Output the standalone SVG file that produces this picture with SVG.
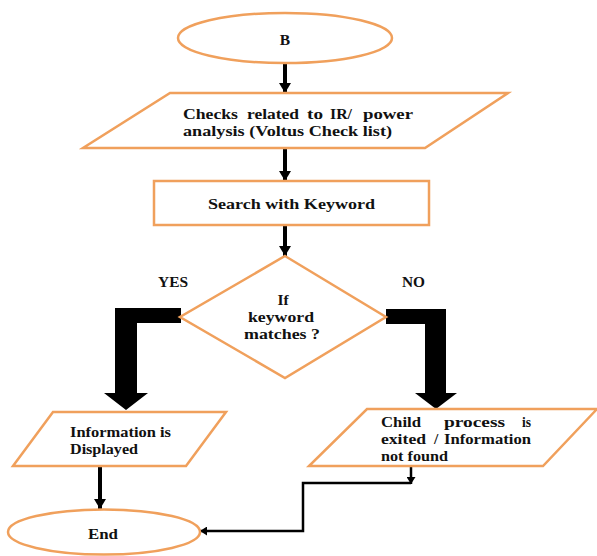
<svg xmlns="http://www.w3.org/2000/svg" width="597" height="556" viewBox="0 0 597 556">
<style>
.shape{fill:#fff;stroke:#F0A05C;stroke-width:2.5}
.t{font-family:"Liberation Serif","Times New Roman",serif;font-weight:bold;font-size:15.5px;fill:#111}
.c{stroke:#000;fill:none}
</style>
<defs>
<marker id="ah" markerUnits="userSpaceOnUse" markerWidth="14" markerHeight="12" refX="10" refY="6" orient="auto">
<path d="M0,0 L10,6 L0,12 Z" fill="#000"/>
</marker>
<marker id="ahs" markerUnits="userSpaceOnUse" markerWidth="10" markerHeight="9" refX="7" refY="4.5" orient="auto">
<path d="M0,0 L7,4.5 L0,9 Z" fill="#000"/>
</marker>
</defs>
<rect width="597" height="556" fill="#fff"/>
<g id="connectors">
<line class="c" x1="285" y1="63" x2="285" y2="93" stroke-width="4" marker-end="url(#ah)"/>
<line class="c" x1="285" y1="148" x2="285" y2="181" stroke-width="4" marker-end="url(#ah)"/>
<line class="c" x1="285" y1="225" x2="285" y2="256" stroke-width="4" marker-end="url(#ah)"/>
<polygon points="181,308 115,308 115,393 104,393 126,410 148,393 137,393 137,323 181,323" fill="#000"/>
<polygon points="386,309 446,309 446,393 457,393 436,409 415,393 425,393 425,324 386,324" fill="#000"/>
<line class="c" x1="100" y1="466" x2="100" y2="509" stroke-width="4" marker-end="url(#ah)"/>
<line class="c" x1="411" y1="466" x2="411" y2="484" stroke-width="2.5" marker-end="url(#ahs)"/>
<polyline class="c" points="411,483 303,483 303,531 200,531" stroke-width="2.5" marker-end="url(#ahs)"/>
</g>
<g id="start">
<ellipse class="shape" cx="285" cy="38" rx="107" ry="25"/>
<text class="t" x="285" y="45" text-anchor="middle" font-size="19">B</text>
</g>
<g id="checks">
<polygon class="shape" points="170,93 508,93 425,148 83,148"/>
<text class="t"><tspan x="183" y="119" textLength="55" lengthAdjust="spacingAndGlyphs">Checks</tspan><tspan x="247" y="119" textLength="52" lengthAdjust="spacingAndGlyphs">related</tspan><tspan x="307" y="119" textLength="16" lengthAdjust="spacingAndGlyphs">to</tspan><tspan x="330" y="119" textLength="22" lengthAdjust="spacingAndGlyphs">IR/</tspan><tspan x="363" y="119" textLength="50" lengthAdjust="spacingAndGlyphs">power</tspan></text>
<text class="t" x="183" y="136" textLength="209" lengthAdjust="spacingAndGlyphs">analysis (Voltus Check list)</text>
</g>
<g id="search">
<rect class="shape" x="154" y="181" width="275" height="44"/>
<text class="t" x="208" y="209" font-size="16" textLength="167" lengthAdjust="spacingAndGlyphs">Search with Keyword</text>
</g>
<g id="decision">
<polygon class="shape" points="285,256 386,317 285,378 180,317"/>
<text class="t" x="283" y="305" text-anchor="middle">If</text>
<text class="t" x="248" y="322" textLength="66" lengthAdjust="spacingAndGlyphs">keyword</text>
<text class="t" x="244" y="339" textLength="76" lengthAdjust="spacingAndGlyphs">matches ?</text>
</g>
<g id="labels">
<text class="t" x="158" y="287" textLength="30" lengthAdjust="spacingAndGlyphs">YES</text>
<text class="t" x="402" y="287" textLength="23" lengthAdjust="spacingAndGlyphs">NO</text>
</g>
<g id="info">
<polygon class="shape" points="53,412 226,412 186,466 13,466"/>
<text class="t" x="70" y="437" textLength="101" lengthAdjust="spacingAndGlyphs">Information is</text>
<text class="t" x="70" y="454" textLength="68" lengthAdjust="spacingAndGlyphs">Displayed</text>
</g>
<g id="notfound">
<polygon class="shape" points="367,409 597,409 543,466 309,466"/>
<text class="t"><tspan x="381" y="427" textLength="40" lengthAdjust="spacingAndGlyphs">Child</tspan><tspan x="444" y="427" textLength="61" lengthAdjust="spacingAndGlyphs">process</tspan><tspan x="522" y="427" textLength="9" lengthAdjust="spacingAndGlyphs">is</tspan></text>
<text class="t"><tspan x="381" y="444" textLength="45" lengthAdjust="spacingAndGlyphs">exited</tspan><tspan x="434" y="444">/</tspan><tspan x="444" y="444" textLength="87" lengthAdjust="spacingAndGlyphs">Information</tspan></text>
<text class="t" x="381" y="461" textLength="67" lengthAdjust="spacingAndGlyphs">not found</text>
</g>
<g id="end">
<ellipse class="shape" cx="104" cy="532" rx="96" ry="22.5"/>
<text class="t" x="88" y="539" font-size="16.5" textLength="30" lengthAdjust="spacingAndGlyphs">End</text>
</g>
</svg>
